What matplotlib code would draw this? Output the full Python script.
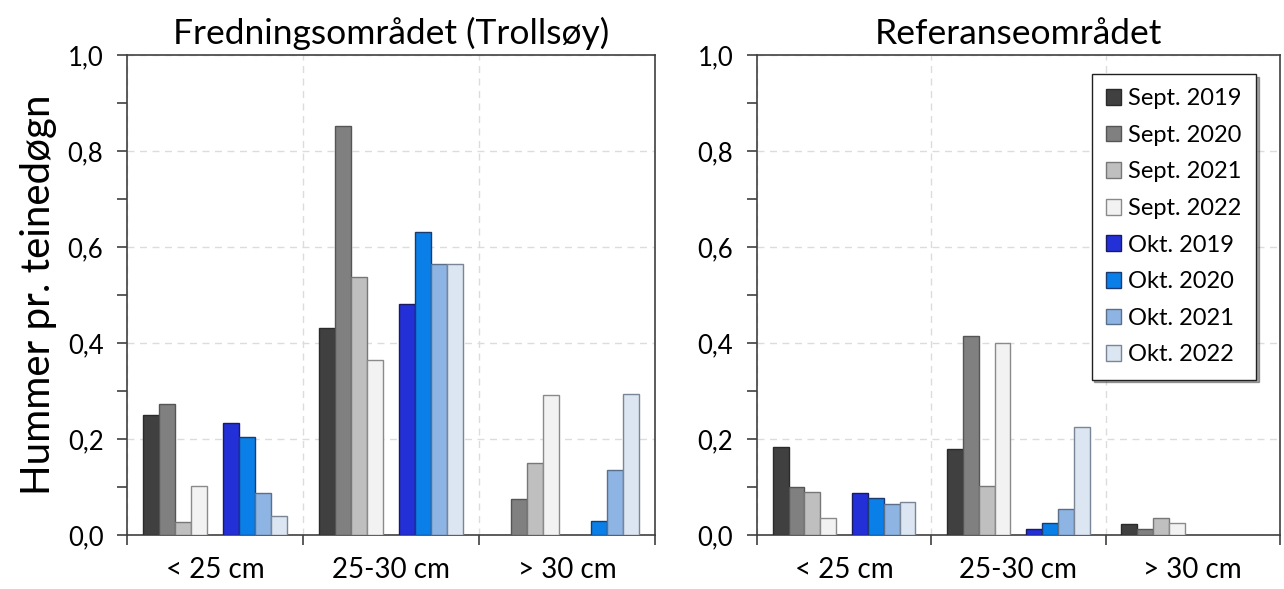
import matplotlib.pyplot as plt
import numpy as np

plt.rcParams['font.family'] = ['Lato', 'DejaVu Sans']

categories = ["< 25 cm", "25-30 cm", "> 30 cm"]
series = ["Sept. 2019", "Sept. 2020", "Sept. 2021", "Sept. 2022",
          "Okt. 2019", "Okt. 2020", "Okt. 2021", "Okt. 2022"]

# values per series, one per size category
fredning = {
    "Sept. 2019": [0.249, 0.431, 0.0],
    "Sept. 2020": [0.272, 0.853, 0.076],
    "Sept. 2021": [0.028, 0.538, 0.149],
    "Sept. 2022": [0.103, 0.365, 0.292],
    "Okt. 2019": [0.233, 0.481, 0.0],
    "Okt. 2020": [0.204, 0.631, 0.029],
    "Okt. 2021": [0.088, 0.565, 0.135],
    "Okt. 2022": [0.040, 0.565, 0.293],
}
referanse = {
    "Sept. 2019": [0.183, 0.180, 0.023],
    "Sept. 2020": [0.101, 0.415, 0.012],
    "Sept. 2021": [0.090, 0.103, 0.036],
    "Sept. 2022": [0.036, 0.399, 0.026],
    "Okt. 2019": [0.088, 0.013, 0.0],
    "Okt. 2020": [0.078, 0.025, 0.0],
    "Okt. 2021": [0.065, 0.055, 0.0],
    "Okt. 2022": [0.069, 0.224, 0.0],
}

colors = ["#404040", "#808080", "#bfbfbf", "#f2f2f2",
          "#2330d8", "#0a7fe8", "#8db4e2", "#dce6f2"]
edges = ["#2a2a2a", "#555555", "#777777", "#8a8a8a",
         "#1a1a60", "#1a3a70", "#5a6f8a", "#7a8595"]

# 11 slots per category: margin, 4 bars, gap, 4 bars, margin
slot = 1.0 / 11
offsets = [slot * (1.5 + i) for i in range(4)] + [slot * (6.5 + i) for i in range(4)]

fig = plt.figure(figsize=(12.84, 5.89), dpi=100)
ax1 = fig.add_axes([0.0989, 0.0917, 0.4112, 0.815])
ax2 = fig.add_axes([0.5895, 0.0917, 0.4073, 0.815])

x = np.arange(len(categories))
yt = np.arange(0, 1.01, 0.2)
for ax, data, title in [(ax1, fredning, "Fredningsområdet (Trollsøy)"),
                        (ax2, referanse, "Referanseområdet")]:
    for i, s in enumerate(series):
        vals = data[s]
        lw = [1.0 if v > 0 else 0 for v in vals]
        ax.bar(x + offsets[i], vals, width=slot, align='center',
               color=colors[i], edgecolor=edges[i], linewidth=lw,
               label=s, zorder=3)
    ax.set_xlim(0, 3)
    ax.set_ylim(0, 1.0)
    ax.set_yticks(yt)
    ax.set_yticklabels([f"{v:.1f}".replace(".", ",") for v in yt])
    ax.set_yticks(np.arange(0.1, 1.0, 0.2), minor=True)
    ax.set_xticks([0, 1, 2, 3])
    ax.set_xticklabels([])
    ax.set_xticks(x + 0.5, minor=True)
    ax.set_xticklabels(categories, minor=True)
    ax.tick_params(axis='x', which='minor', length=0, labelsize=20, pad=16)
    ax.tick_params(axis='x', which='major', direction='out', length=7, width=1.2, color='#404040')
    ax.tick_params(axis='y', which='both', direction='out', length=7, width=1.2, color='#404040')
    ax.tick_params(axis='y', which='major', labelsize=18.5, pad=10)
    ax.grid(True, which='major', linestyle=(0, (5, 4)), color='#dcdcdc', linewidth=1.0, zorder=0)
    for sp in ax.spines.values():
        sp.set_color('#404040')
        sp.set_linewidth(1.2)
    ax.set_title(title, fontsize=25.5, pad=8)

ax1.set_ylabel("Hummer pr. teinedøgn", fontsize=29, labelpad=8)

leg = ax2.legend(loc='upper right', bbox_to_anchor=(0.954, 0.96), fontsize=17,
                 frameon=True, fancybox=False, shadow=True, handlelength=0.65,
                 handleheight=0.65, handletextpad=0.3, labelspacing=0.66,
                 borderpad=0.6, borderaxespad=0)
leg.get_frame().set_edgecolor('#202020')
leg.get_frame().set_linewidth(1.0)

fig.savefig("out.png", dpi=100)
